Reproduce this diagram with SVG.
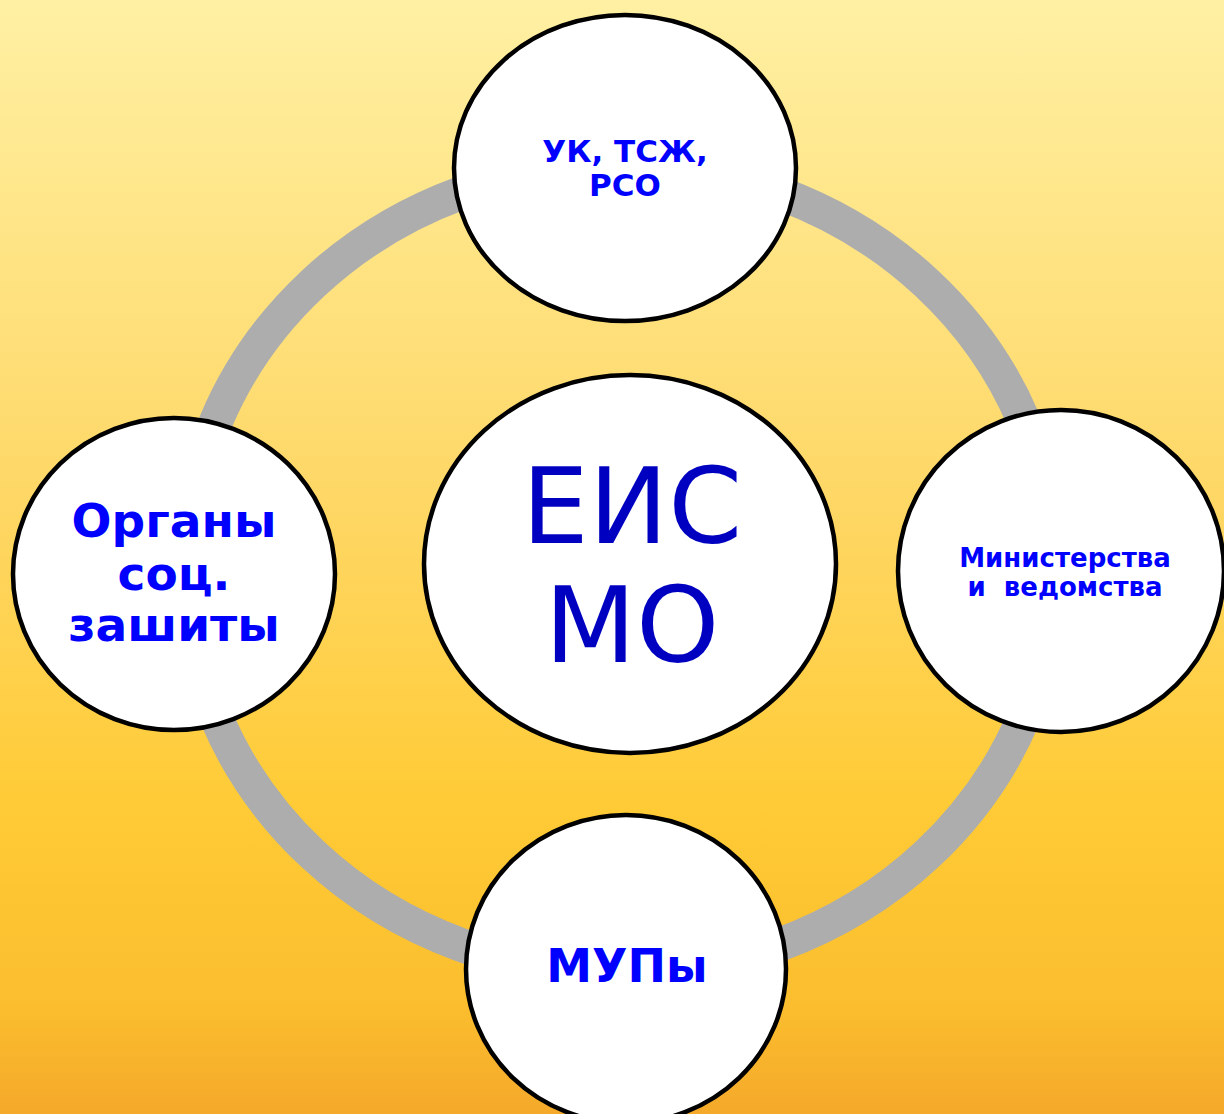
<svg xmlns="http://www.w3.org/2000/svg" width="1224" height="1114" viewBox="0 0 1224 1114">
<defs>
<linearGradient id="bg" x1="0" y1="0" x2="0" y2="1">
<stop offset="0" stop-color="#FFF0A3"/>
<stop offset="0.45" stop-color="#FED765"/>
<stop offset="0.72" stop-color="#FFCB36"/>
<stop offset="0.9" stop-color="#FBBE2E"/>
<stop offset="1" stop-color="#F5A92A"/>
</linearGradient>
</defs>
<style>
.node{fill:#FFFFFF;stroke:#000000;stroke-width:4.5}
.lbl{font-family:"DejaVu Sans","Noto Sans",sans-serif;font-weight:bold;fill:#0000FF;text-anchor:middle}
.main{font-family:"DejaVu Sans","Noto Sans",sans-serif;fill:#0000C0;text-anchor:middle}
</style>
<rect x="0" y="0" width="1224" height="1114" fill="url(#bg)"/>
<g id="connectors">
<ellipse cx="620" cy="569" rx="434" ry="404" fill="none" stroke="#ADADAD" stroke-width="34"/>
</g>
<g id="node-top">
<ellipse class="node" cx="625" cy="168" rx="171" ry="153"/>
<text class="lbl" font-size="31" x="625" y="162">УК, ТСЖ,</text>
<text class="lbl" font-size="31" x="625" y="196">РСО</text>
</g>
<g id="node-left">
<ellipse class="node" cx="174" cy="574" rx="161" ry="156"/>
<text class="lbl" font-size="47" x="174" y="537">Органы</text>
<text class="lbl" font-size="47" x="174" y="590">соц.</text>
<text class="lbl" font-size="47" x="174" y="641">зашиты</text>
</g>
<g id="node-right">
<ellipse class="node" cx="1061" cy="571" rx="163" ry="161"/>
<text class="lbl" font-size="26" x="1065" y="567">Министерства</text>
<text class="lbl" font-size="26" x="1065" y="596" xml:space="preserve">и  ведомства</text>
</g>
<g id="node-bottom">
<ellipse class="node" cx="626" cy="969" rx="160" ry="154"/>
<text class="lbl" font-size="46" x="627" y="982">МУПы</text>
</g>
<g id="node-center">
<ellipse class="node" cx="630" cy="564" rx="206" ry="189"/>
<text class="main" font-size="106" x="632" y="543">ЕИС</text>
<text class="main" font-size="106" x="632" y="662">МО</text>
</g>
</svg>
